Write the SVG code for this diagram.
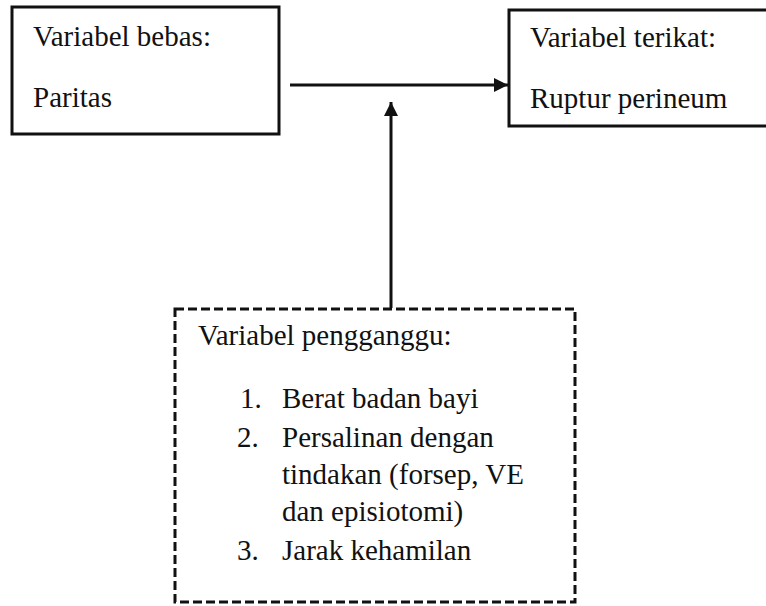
<svg xmlns="http://www.w3.org/2000/svg" width="766" height="606" viewBox="0 0 766 606">
<defs>
<marker id="ah" viewBox="0 0 10 10" refX="10" refY="5" markerWidth="14" markerHeight="14" markerUnits="userSpaceOnUse" orient="auto">
<path d="M0,0 L10,5 L0,10 Z" fill="#111"/>
</marker>
<style>
.box{fill:#fff;stroke:#111;stroke-width:3}
.dash{fill:#fff;stroke:#111;stroke-width:3;stroke-dasharray:9 4}
.c{stroke:#111;stroke-width:3;fill:none}
</style>
</defs>
<rect width="766" height="606" fill="#fff"/>
<g font-family="Liberation Serif, Times New Roman, DejaVu Serif, serif" font-size="29" fill="#111">
<g id="node-bebas">
<rect class="box" x="12" y="7" width="267" height="127"/>
<text x="33" y="46">Variabel bebas:</text>
<text x="33" y="107">Paritas</text>
</g>
<g id="node-terikat">
<rect class="box" x="509" y="10" width="270" height="116"/>
<text x="530" y="47">Variabel terikat:</text>
<text x="530" y="108">Ruptur perineum</text>
</g>
<g id="node-pengganggu">
<rect class="dash" x="175" y="309" width="400" height="293"/>
<text x="198" y="345">Variabel pengganggu:</text>
<text x="240" y="408">1.</text>
<text x="282" y="408">Berat badan bayi</text>
<text x="237" y="447">2.</text>
<text x="282" y="447">Persalinan dengan</text>
<text x="282" y="484">tindakan (forsep, VE</text>
<text x="282" y="521">dan episiotomi)</text>
<text x="237" y="560">3.</text>
<text x="282" y="560">Jarak kehamilan</text>
</g>
</g>
<g id="connectors">
<line class="c" x1="290" y1="85" x2="508" y2="85" marker-end="url(#ah)"/>
<line class="c" x1="391" y1="308" x2="391" y2="102" marker-end="url(#ah)"/>
</g>
</svg>
